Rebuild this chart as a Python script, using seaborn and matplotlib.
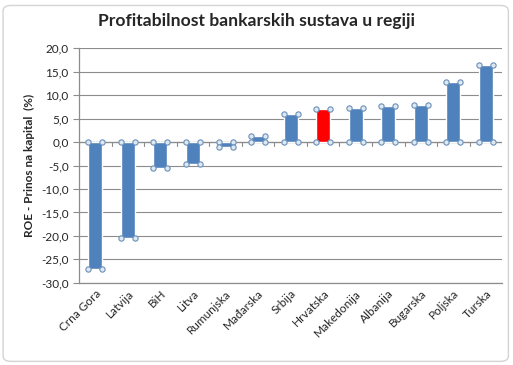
import seaborn as sns
import matplotlib.pyplot as plt
from matplotlib.patches import FancyBboxPatch

# data
countries = ["Crna Gora", "Latvija", "BiH", "Litva", "Rumunjska", "Mađarska", "Srbija",
             "Hrvatska", "Makedonija", "Albanija", "Bugarska", "Poljska", "Turska"]
roe = [-27.0, -20.4, -5.5, -4.7, -1.0, 1.2, 5.9, 7.0, 7.3, 7.6, 8.0, 12.7, 16.4]
highlight = "Hrvatska"

sns.set_style("white")
plt.rcParams['font.family'] = ['Lato', 'DejaVu Sans']

fig = plt.figure(figsize=(5.13, 3.65), dpi=100)
ax = fig.add_axes([0.154, 0.225, 0.825, 0.643])

colors = ["#ff0000" if c == highlight else "#4f81bd" for c in countries]
sns.barplot(x=countries, y=roe, hue=countries, palette=colors, legend=False,
            width=0.43, saturation=1, ax=ax, zorder=2)

# small circles on the corners of each bar
for p in ax.patches:
    x0, x1 = p.get_x(), p.get_x() + p.get_width()
    y0, y1 = p.get_y(), p.get_y() + p.get_height()
    ax.plot([x0, x1, x0, x1], [y0, y0, y1, y1], "o", ms=3.8, mfc="#dce8f2",
            mec="#6b8fb8", mew=0.8, zorder=3, clip_on=False)

ax.set_ylim(-30, 20)
ax.set_xlim(-0.5, len(countries) - 0.5)
ax.set_yticks(range(-30, 21, 5))
ax.set_yticklabels([f"{v:.1f}".replace(".", ",") for v in range(-30, 21, 5)], fontsize=8.5)
ax.yaxis.grid(True, color="#8c8c8c", lw=0.8, zorder=0)
ax.tick_params(axis="y", left=True, length=4, color="#8c8c8c")
ax.tick_params(axis="x", bottom=False, length=0)

# zero axis with category tick marks
ax.axhline(0, color="#8c8c8c", lw=0.9, zorder=1)
for i in range(len(countries) + 1):
    ax.plot([i - 0.5, i - 0.5], [0, -0.9], color="#8c8c8c", lw=0.8, zorder=1)

ax.set_xticks(range(len(countries)))
ax.set_xticklabels(countries, rotation=45, ha="right", rotation_mode="anchor", fontsize=8.5)

for s in ["top", "right"]:
    ax.spines[s].set_visible(False)
for s in ["left", "bottom"]:
    ax.spines[s].set_color("#8c8c8c")
    ax.spines[s].set_linewidth(0.9)

ax.set_xlabel("")
ax.set_ylabel("ROE - Prinos na kapital  (%)", fontsize=8.5, fontweight="bold")
fig.text(0.5, 0.93, "Profitabilnost bankarskih sustava u regiji", ha="center",
         fontsize=12.6, fontweight="bold")

# chart border
fig.patches.append(FancyBboxPatch((0.006, 0.01), 0.985, 0.975, boxstyle="round,pad=0,rounding_size=0.015",
                                  transform=fig.transFigure, fill=False, ec="#d4d4d4", lw=1))

fig.savefig("out.png", dpi=100)
